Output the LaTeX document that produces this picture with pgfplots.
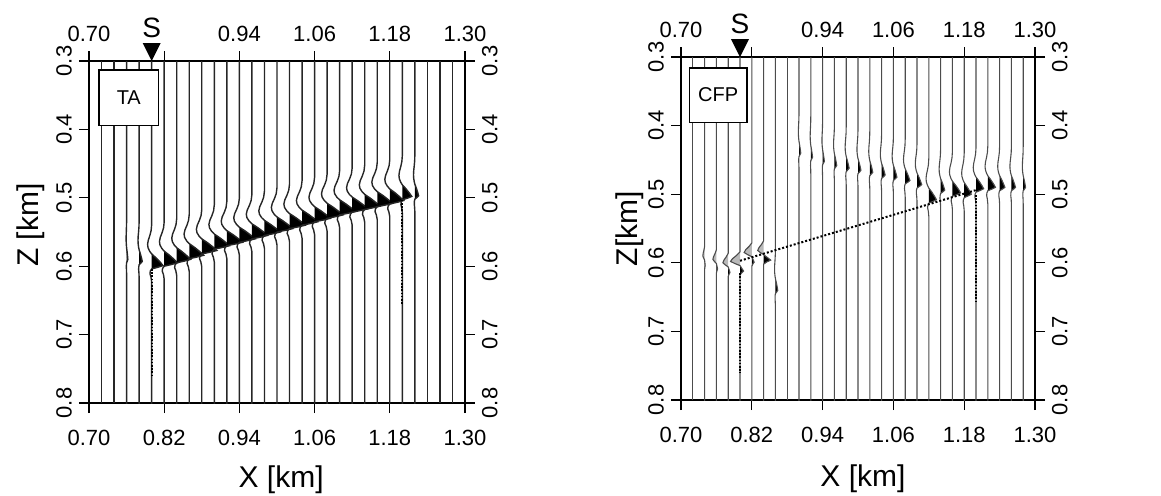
\documentclass[border=0pt]{standalone}
\usepackage{fontspec}
\setmainfont{Liberation Sans}
\usepackage{pgfplots}
\usepackage{pgfplotstable}
\pgfplotsset{compat=1.18}

% wavelet template A: t = depth relative to peak, a = relative amplitude
\pgfplotstableread{
t a
-1 0
-0.060 0
-0.051 -0.05
-0.044 -0.16
-0.037 -0.30
-0.031 -0.36
-0.026 -0.32
-0.021 -0.18
-0.017 0
-0.011 0.4
-0.005 0.75
0 1
0.0025 0.55
0.005 0
0.008 -0.12
0.012 -0.15
0.017 -0.06
0.024 0
1 0
}\wA
\pgfplotstableread{
t a
-0.017 0
-0.011 0.4
-0.005 0.75
0 1
0.0025 0.55
0.005 0
}\lA
% wavelet template C: n = negative lobe, p = positive lobe
\pgfplotstableread{
t n p
-1 0 0
-0.014 0 0
-0.009 -0.35 0
-0.004 -0.8 0
0 -1 0
0.003 -0.55 0
0.006 0 0
0.010 0 0.5
0.014 0 1
0.017 0 0.4
0.020 0 0
1 0 0
}\wC
\pgfplotstableread{
t n p
-0.014 0 0
-0.009 -0.35 0
-0.004 -0.8 0
0 -1 0
0.003 -0.55 0
0.006 0 0
}\nC
\pgfplotstableread{
t n p
0.006 0 0
0.010 0 0.5
0.014 0 1
0.017 0 0.4
0.020 0 0
}\pC

\newcommand\trA[3]{%
 \addplot[fill=black, draw=none] table[x expr={#1+#3*\thisrow{a}}, y expr={#2+\thisrow{t}}]{\lA};
 \addplot[wig] table[x expr={#1+#3*\thisrow{a}}, y expr={#2+\thisrow{t}}]{\wA};
}
\newcommand\trC[4]{%
 \addplot[fill=gray!55, draw=none] table[x expr={#1+#3*\thisrow{n}+#4*\thisrow{p}}, y expr={#2+\thisrow{t}}]{\nC};
 \addplot[fill=black, draw=none] table[x expr={#1+#3*\thisrow{n}+#4*\thisrow{p}}, y expr={#2+\thisrow{t}}]{\pC};
 \addplot[wig] table[x expr={#1+#3*\thisrow{n}+#4*\thisrow{p}}, y expr={#2+\thisrow{t}}]{\wC};
}

\pgfplotsset{
 wig/.style={black!85, line width=0.7pt},
 panel/.style={scale only axis, xmin=0.7, xmax=1.3, ymin=0.3, ymax=0.8, y dir=reverse,
   xtick={0.7,0.82,0.94,1.06,1.18,1.3}, ytick={0.3,0.4,0.5,0.6,0.7,0.8},
   tick align=outside, major tick length=5pt,
   tick style={black, line width=0.6pt}, axis line style={line width=0.6pt},
   tick label style={font=\fontsize{11}{13}\selectfont},
   clip mode=individual},
 mainax/.style={panel,
   xticklabels={0.70,0.82,0.94,1.06,1.18,1.30}, yticklabels={0.3,0.4,0.5,0.6,0.7,0.8},
   xticklabel style={yshift=-5pt},
   yticklabel style={rotate=90, anchor=south}},
 overax/.style={panel, axis line style={draw=none}, tick style={draw=none},
   xticklabel pos=right, yticklabel pos=right,
   xticklabels={0.70,,0.94,1.06,1.18,1.30}, yticklabels={0.3,0.4,0.5,0.6,0.7,0.8},
   xticklabel style={yshift=1pt},
   yticklabel style={rotate=90, anchor=north}, clip=false},
}

\begin{document}
\begin{tikzpicture}
\useasboundingbox (0,0) rectangle (580.5pt,247.5pt);

% ---------------- TA panel ----------------
\begin{axis}[mainax, at={(44.5pt,46pt)}, anchor=south west, width=188pt, height=171pt,
  xlabel={X [km]}, ylabel={Z [km]},
  xlabel style={font=\fontsize{15}{18}\selectfont, at={(axis description cs:0.511,-0.224)}, anchor=center},
  ylabel style={font=\fontsize{15}{18}\selectfont, at={(axis description cs:-0.155,0.52)}, anchor=center}]
\addplot[wig, ycomb] coordinates {(0.72,0.8)(0.74,0.8)(1.24,0.8)(1.26,0.8)(1.28,0.8)};
\trA{0.76}{0.590}{0.002}
\trA{0.78}{0.593}{0.005}
\trA{0.80}{0.599}{0.018}
\trA{0.82}{0.595}{0.021}
\trA{0.84}{0.590}{0.022}
\trA{0.86}{0.584}{0.023}
\trA{0.88}{0.577}{0.024}
\trA{0.90}{0.570}{0.024}
\trA{0.92}{0.565}{0.025}
\trA{0.94}{0.560}{0.025}
\trA{0.96}{0.555}{0.025}
\trA{0.98}{0.550}{0.025}
\trA{1.00}{0.545}{0.025}
\trA{1.02}{0.540}{0.025}
\trA{1.04}{0.535}{0.025}
\trA{1.06}{0.530}{0.025}
\trA{1.08}{0.525}{0.025}
\trA{1.10}{0.520}{0.025}
\trA{1.12}{0.516}{0.025}
\trA{1.14}{0.512}{0.024}
\trA{1.16}{0.508}{0.024}
\trA{1.18}{0.504}{0.022}
\trA{1.20}{0.498}{0.015}
\trA{1.22}{0.497}{0.006}
\addplot[black, line width=1pt, dash pattern=on 0.8pt off 0.8pt] coordinates {(0.80,0.604)(0.80,0.760)};
\addplot[black, line width=1pt, dash pattern=on 0.8pt off 0.8pt] coordinates {(1.20,0.503)(1.20,0.657)};
\end{axis}
\begin{axis}[overax, at={(44.5pt,46pt)}, anchor=south west, width=188pt, height=171pt]
\draw[fill=white, line width=0.6pt] (axis cs:0.716,0.313) rectangle (axis cs:0.811,0.394);
\node[font=\fontsize{10}{12}\selectfont] at (axis cs:0.7635,0.3535) {TA};
\fill (axis cs:0.80,0.3) -- ++(-4.5pt,9pt) -- ++(9pt,0pt) -- cycle;
\node[font=\fontsize{14}{16}\selectfont, anchor=base] at ([yshift=12pt]axis cs:0.80,0.3) {S};
\end{axis}

% ---------------- CFP panel ----------------
\begin{axis}[mainax, at={(340.5pt,47.5pt)}, anchor=south west, width=177pt, height=171.5pt,
  wig/.style={black!70, line width=0.55pt},
  xlabel={X [km]}, ylabel={Z[km]},
  xlabel style={font=\fontsize{15}{18}\selectfont, at={(axis description cs:0.514,-0.229)}, anchor=center},
  ylabel style={font=\fontsize{15}{18}\selectfont, at={(axis description cs:-0.144,0.5)}, anchor=center}]
\addplot[wig, ycomb] coordinates {(0.72,0.8)(0.88,0.8)};
\trC{0.74}{0.590}{0.003}{0.001}
\trC{0.76}{0.595}{0.006}{0.002}
\trC{0.78}{0.600}{0.009}{0.003}
\trC{0.80}{0.598}{0.016}{0.006}
\trC{0.82}{0.585}{0.013}{0.004}
\trC{0.84}{0.582}{0.010}{0.012}
\trA{0.86}{0.640}{0.004}
\trA{0.90}{0.440}{0.003}
\trA{0.92}{0.446}{0.003}
\trA{0.94}{0.452}{0.003}
\trA{0.96}{0.458}{0.004}
\trA{0.98}{0.462}{0.005}
\trA{1.00}{0.465}{0.005}
\trA{1.02}{0.468}{0.005}
\trA{1.04}{0.472}{0.006}
\trA{1.06}{0.475}{0.006}
\trA{1.08}{0.480}{0.008}
\trA{1.10}{0.486}{0.008}
\trA{1.12}{0.508}{0.013}
\trA{1.14}{0.494}{0.007}
\trA{1.16}{0.498}{0.014}
\trA{1.18}{0.500}{0.012}
\trA{1.20}{0.492}{0.013}
\trA{1.22}{0.490}{0.013}
\trA{1.24}{0.490}{0.009}
\trA{1.26}{0.490}{0.007}
\trA{1.28}{0.490}{0.004}
\addplot[black, line width=1pt, dash pattern=on 1pt off 1pt] coordinates {(0.80,0.597)(1.20,0.494)};
\addplot[black, line width=1pt, dash pattern=on 0.8pt off 0.8pt] coordinates {(0.80,0.615)(0.80,0.760)};
\addplot[black, line width=1pt, dash pattern=on 0.8pt off 0.8pt] coordinates {(1.20,0.501)(1.20,0.655)};
\end{axis}
\begin{axis}[overax, at={(340.5pt,47.5pt)}, anchor=south west, width=177pt, height=171.5pt]
\draw[fill=white, line width=0.6pt] (axis cs:0.714,0.316) rectangle (axis cs:0.812,0.395);
\node[font=\fontsize{10}{12}\selectfont] at (axis cs:0.763,0.3555) {CFP};
\fill (axis cs:0.80,0.3) -- ++(-4.5pt,9pt) -- ++(9pt,0pt) -- cycle;
\node[font=\fontsize{14}{16}\selectfont, anchor=base] at ([yshift=12pt]axis cs:0.80,0.3) {S};
\end{axis}
\end{tikzpicture}
\end{document}
